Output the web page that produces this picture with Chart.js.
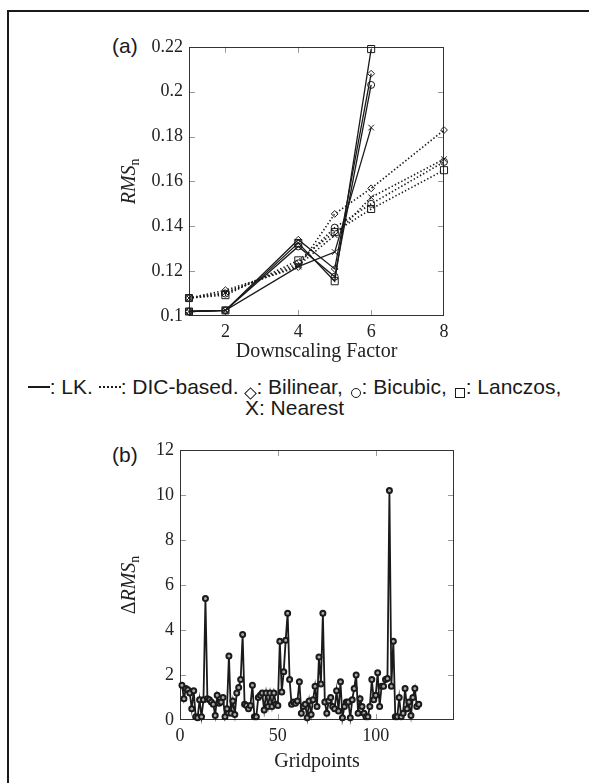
<!DOCTYPE html>
<html>
<head>
<meta charset="utf-8">
<script src="https://cdn.jsdelivr.net/npm/chart.js@4.4.1/dist/chart.umd.min.js"></script>
<style>
  html, body { margin: 0; padding: 0; background: #fff; }
  body { width: 589px; height: 783px; position: relative; overflow: hidden;
         font-family: "Liberation Sans", Arial, sans-serif; color: #1a1a1a; }
  #frame { position: absolute; left: 7px; top: 10px; width: 700px; height: 900px; border: 2px solid #1a1a1a; }
  .panel-label { position: absolute; left: 112px; font-size: 21px; line-height: 1; }
  canvas { position: absolute; }
  #legend { position: absolute; left: 0; width: 589px; top: 377px; text-align: center;
            font-size: 21px; line-height: 20px; white-space: nowrap; }
  .solid { display: inline-block; width: 22px; border-top: 2px solid #1a1a1a; vertical-align: 6px; }
  .dotted { display: inline-block; width: 22px; border-top: 2px dotted #1a1a1a; vertical-align: 6px; }
  .mk { display: inline-block; width: 8px; height: 8px; border: 1.8px solid #1a1a1a; vertical-align: -4px; margin: 0 1px 0 2px; }
  .mk.dia { transform: rotate(45deg); width: 7px; height: 7px; }
  .mk.cir { border-radius: 50%; }
</style>
</head>
<body>
<div id="frame"></div>
<div class="panel-label" style="top:35px">(a)</div>
<div class="panel-label" style="top:444px">(b)</div>
<canvas id="chartA" width="360" height="340" style="left:100px;top:30px"></canvas>
<div id="legend">
  <span class="solid"></span>: LK. <span class="dotted"></span>: DIC-based. <span class="mk dia"></span>: Bilinear, <span class="mk cir"></span>: Bicubic, <span class="mk"></span>: Lanczos,<br>
  X: Nearest
</div>
<canvas id="chartB" width="380" height="353" style="left:90px;top:430px"></canvas>
<script>
// (a) RMS vs downscaling factor
const factorsLK = [1, 2, 4, 5, 6];
const factorsDIC = [1, 2, 4, 5, 6, 8];
const lkBilinear = [0.102, 0.1025, 0.134, 0.121, 0.208];
const lkBicubic = [0.102, 0.1025, 0.131, 0.1175, 0.203];
const lkLanczos = [0.102, 0.1025, 0.1325, 0.1155, 0.219];
const lkNearest = [0.102, 0.1025, 0.122, 0.1285, 0.184];
const dicBilinear = [0.108, 0.1115, 0.1218, 0.1455, 0.1569, 0.1829];
const dicBicubic = [0.108, 0.110, 0.1235, 0.1394, 0.150, 0.1687];
const dicLanczos = [0.108, 0.1093, 0.1248, 0.1374, 0.1477, 0.165];
const dicNearest = [0.108, 0.1105, 0.1225, 0.136, 0.1529, 0.1699];
const factorTicks = [2, 4, 6, 8];
const rmsTicks = [0.1, 0.12, 0.14, 0.16, 0.18, 0.2, 0.22];

// (b) delta RMS per gridpoint
const dRms = [
  1.55, 0.95, 1.4, 1.35, 1.2, 0.5, 1.3, 0.15, 0.1, 0.9,
  0.15, 0.9, 5.4, 0.95, 0.9, 0.8, 0.7, 0.2, 1.1, 0.75,
  0.8, 1.0, 0.15, 0.5, 2.85, 0.3, 0.85, 0.25, 1.2, 1.45,
  1.8, 3.8, 0.7, 0.65, 0.5, 0.65, 1.55, 0.15, 0.15, 1.0,
  1.1, 1.2, 0.45, 1.2, 0.6, 1.2, 0.6, 1.2, 0.7, 0.65,
  3.5, 1.25, 2.15, 3.55, 4.75, 1.8, 0.7, 0.8, 0.75, 0.85,
  1.7, 0.3, 0.6, 0.7, 0.1, 0.85, 0.25, 0.9, 1.5, 0.6,
  2.8, 1.6, 4.75, 0.8, 0.3, 0.85, 1.0, 0.6, 0.5, 1.3,
  0.4, 1.7, 0.1, 0.6, 0.8, 0.8, 0.1, 0.9, 1.4, 2.0,
  0.3, 0.95, 0.6, 0.3, 0.15, 0.15, 0.6, 1.8, 0.9, 1.1,
  2.1, 0.6, 1.5, 1.5, 1.8, 1.85, 10.2, 1.5, 3.5, 0.15,
  0.15, 1.0, 0.15, 0.3, 1.4, 0.5, 0.8, 0.2, 1.0, 1.4,
  0.6, 0.7
];
const gridpoints = dRms.map((_, i) => i + 1);
const gridTicks = [0, 50, 100];
const dRmsTicks = [0, 2, 4, 6, 8, 10, 12];

const SERIF = '"Liberation Serif", "Times New Roman", serif';
const INK = '#1a1a1a';

// frame, inner ticks and axis titles (pgfplots look)
const framePlugin = {
  id: 'frame',
  beforeDatasetsDraw(chart) {
    const { ctx, chartArea: a, scales: { x, y } } = chart;
    ctx.save();
    ctx.strokeStyle = '#999';
    ctx.lineWidth = 1;
    ctx.beginPath();
    x.ticks.forEach(t => {
      const px = Math.round(x.getPixelForValue(t.value)) + 0.5;
      if (px < a.left + 2 || px > a.right - 2) return;
      ctx.moveTo(px, a.bottom); ctx.lineTo(px, a.bottom - 6);
      ctx.moveTo(px, a.top); ctx.lineTo(px, a.top + 6);
    });
    y.ticks.forEach(t => {
      const py = Math.round(y.getPixelForValue(t.value)) + 0.5;
      if (py < a.top + 2 || py > a.bottom - 2) return;
      ctx.moveTo(a.left, py); ctx.lineTo(a.left + 6, py);
      ctx.moveTo(a.right, py); ctx.lineTo(a.right - 6, py);
    });
    ctx.stroke();
    ctx.strokeStyle = '#333';
    ctx.strokeRect(Math.round(a.left) + 0.5, Math.round(a.top) + 0.5,
                   Math.round(a.width) - 1, Math.round(a.height) - 1);
    ctx.restore();
  },
  afterDraw(chart, args, opts) {
    const { ctx, chartArea: a } = chart;
    ctx.save();
    ctx.fillStyle = '#222';
    ctx.textBaseline = 'middle';
    ctx.textAlign = 'center';
    ctx.font = '20px ' + SERIF;
    ctx.fillText(opts.xTitle, (a.left + a.right) / 2, a.bottom + opts.xOff);

    ctx.translate(a.left - opts.yOff, (a.top + a.bottom) / 2);
    ctx.rotate(-Math.PI / 2);
    ctx.textAlign = 'left';
    let total = 0;
    const parts = opts.yTitle.map(p => {
      ctx.font = p.font;
      const w = ctx.measureText(p.text).width;
      total += w;
      return { ...p, w };
    });
    let cx = -total / 2;
    parts.forEach(p => {
      ctx.font = p.font;
      ctx.fillText(p.text, cx, p.dy || 0);
      cx += p.w;
    });
    ctx.restore();
  }
};

const shapes = {
  diamond: { style: 'rectRot', r: 3.4 },
  circle: { style: 'circle', r: 3.5 },
  square: { style: 'rect', r: 5 },
  cross: { style: 'crossRot', r: 4 }
};

function series(xs, ys, shape, dotted) {
  return {
    data: xs.map((x, i) => ({ x: x, y: ys[i] })),
    borderColor: INK,
    borderWidth: dotted ? 1.6 : 1.3,
    borderDash: dotted ? [1.4, 2.2] : [],
    pointStyle: shape.style,
    pointRadius: shape.r,
    pointBorderWidth: 1,
    pointBorderColor: INK,
    pointBackgroundColor: 'rgba(255,255,255,0)',
    tension: 0,
    fill: false,
    clip: false
  };
}

function axisX(min, max, ticks, height) {
  return {
    type: 'linear', min: min, max: max,
    grid: { display: false, drawTicks: false },
    border: { display: false },
    afterBuildTicks: s => { s.ticks = ticks.map(v => ({ value: v })); },
    afterFit: s => { s.height = height; },
    ticks: { padding: 5, color: '#222', font: { family: SERIF, size: 18 }, callback: v => String(v), maxRotation: 0 }
  };
}

function axisY(min, max, ticks, width) {
  return {
    type: 'linear', min: min, max: max,
    grid: { display: false, drawTicks: false },
    border: { display: false },
    afterBuildTicks: s => { s.ticks = ticks.map(v => ({ value: v })); },
    afterFit: s => { s.width = width; },
    ticks: { padding: 6, color: '#222', font: { family: SERIF, size: 18 }, callback: v => String(v) }
  };
}

new Chart(document.getElementById('chartA'), {
  type: 'line',
  data: {
    datasets: [
      series(factorsDIC, dicBilinear, shapes.diamond, true),
      series(factorsDIC, dicBicubic, shapes.circle, true),
      series(factorsDIC, dicLanczos, shapes.square, true),
      series(factorsDIC, dicNearest, shapes.cross, true),
      series(factorsLK, lkBilinear, shapes.diamond, false),
      series(factorsLK, lkBicubic, shapes.circle, false),
      series(factorsLK, lkLanczos, shapes.square, false),
      series(factorsLK, lkNearest, shapes.cross, false)
    ]
  },
  options: {
    responsive: false,
    animation: false,
    devicePixelRatio: 1,
    layout: { padding: { top: 15, right: 16, left: 0, bottom: 0 } },
    plugins: {
      legend: { display: false },
      tooltip: { enabled: false },
      frame: {
        xTitle: 'Downscaling Factor', xOff: 36, yOff: 59,
        yTitle: [
          { text: 'RMS', font: 'italic 20px ' + SERIF },
          { text: 'n', font: '14px ' + SERIF, dy: 5 }
        ]
      }
    },
    scales: {
      x: axisX(1, 8, factorTicks, 54),
      y: axisY(0.1, 0.22, rmsTicks, 89)
    }
  },
  plugins: [framePlugin]
});

new Chart(document.getElementById('chartB'), {
  type: 'line',
  data: {
    datasets: [{
      data: gridpoints.map((g, i) => ({ x: g, y: dRms[i] })),
      borderColor: INK,
      borderWidth: 1.8,
      pointStyle: 'circle',
      pointRadius: 2.5,
      pointBorderWidth: 2,
      pointBorderColor: INK,
      pointBackgroundColor: '#aaa',
      tension: 0,
      fill: false,
      clip: false
    }]
  },
  options: {
    responsive: false,
    animation: false,
    devicePixelRatio: 1,
    layout: { padding: { top: 20, right: 16, left: 0, bottom: 0 } },
    plugins: {
      legend: { display: false },
      tooltip: { enabled: false },
      frame: {
        xTitle: 'Gridpoints', xOff: 42, yOff: 50,
        yTitle: [
          { text: 'Δ', font: '20px ' + SERIF },
          { text: 'RMS', font: 'italic 20px ' + SERIF },
          { text: 'n', font: '14px ' + SERIF, dy: 5 }
        ]
      }
    },
    scales: {
      x: axisX(0, 140, gridTicks, 63),
      y: axisY(0, 12, dRmsTicks, 90)
    }
  },
  plugins: [framePlugin]
});
</script>
</body>
</html>
